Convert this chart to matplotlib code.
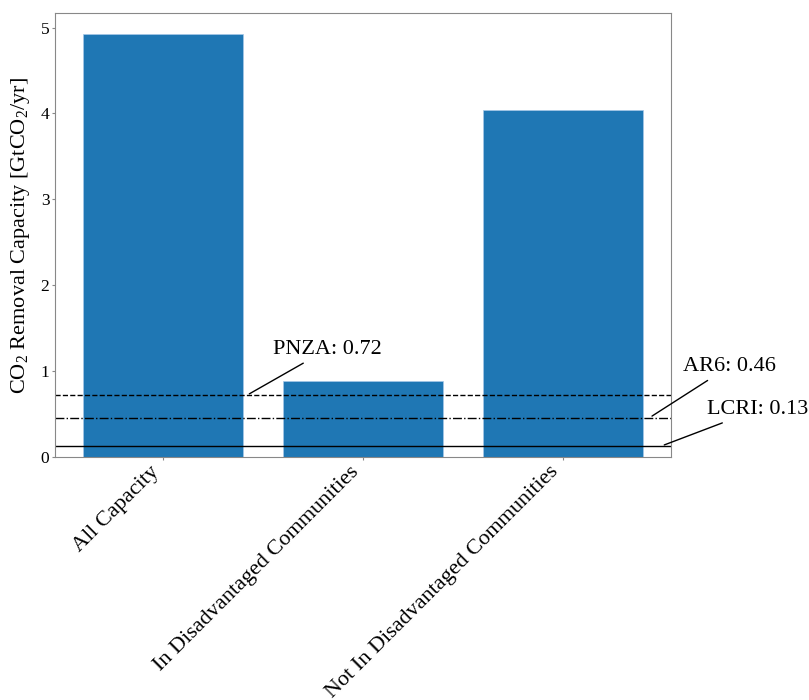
import matplotlib
matplotlib.use("Agg")
import matplotlib.pyplot as plt

plt.rcParams['font.family'] = ['Liberation Serif', 'DejaVu Serif']
plt.rcParams['mathtext.fontset'] = 'custom'
plt.rcParams['mathtext.rm'] = 'Liberation Serif'
plt.rcParams['mathtext.it'] = 'Liberation Serif:italic'

categories = ['All Capacity', 'In Disadvantaged Communities', 'Not In Disadvantaged Communities']
capacity = [4.92, 0.885, 4.04]

# reference removal targets
target_names = ['PNZA', 'AR6', 'LCRI']
target_values = [0.72, 0.46, 0.13]
target_styles = ['--', '-.', '-']
arrow_x = [0.42, 2.435, 2.495]
label_xy = [(0.55, 1.2), (2.6, 1.0), (2.72, 0.5)]

fig = plt.figure(figsize=(8.09, 7), dpi=100)
ax = fig.add_axes([0.068, 0.347, 0.761, 0.634])

ax.bar(range(len(categories)), capacity, width=0.8, color='#1f77b4', edgecolor='#a6c8e8', linewidth=0.5)

for name, val, ls, ax_x, (tx, ty) in zip(target_names, target_values, target_styles, arrow_x, label_xy):
    ax.axhline(val, color='black', linestyle=ls, linewidth=1)
    ax.annotate(f'{name}: {val}', xy=(ax_x, val), xytext=(tx, ty), fontsize=16,
                annotation_clip=False,
                arrowprops=dict(arrowstyle='-', color='black', linewidth=1))

ax.set_xticks(range(len(categories)))
ax.set_xticklabels(categories, rotation=45, ha='right', fontsize=16)
ax.tick_params(axis='y', labelsize=12.5)
ax.tick_params(colors='#888888', labelcolor='black', length=2.5, pad=1.5)
for sp in ax.spines.values():
    sp.set_color('#888888')
ax.set_ylabel('CO$_2$ Removal Capacity [GtCO$_2$/yr]', fontsize=16, labelpad=6)

fig.savefig('out.png', dpi=100)
